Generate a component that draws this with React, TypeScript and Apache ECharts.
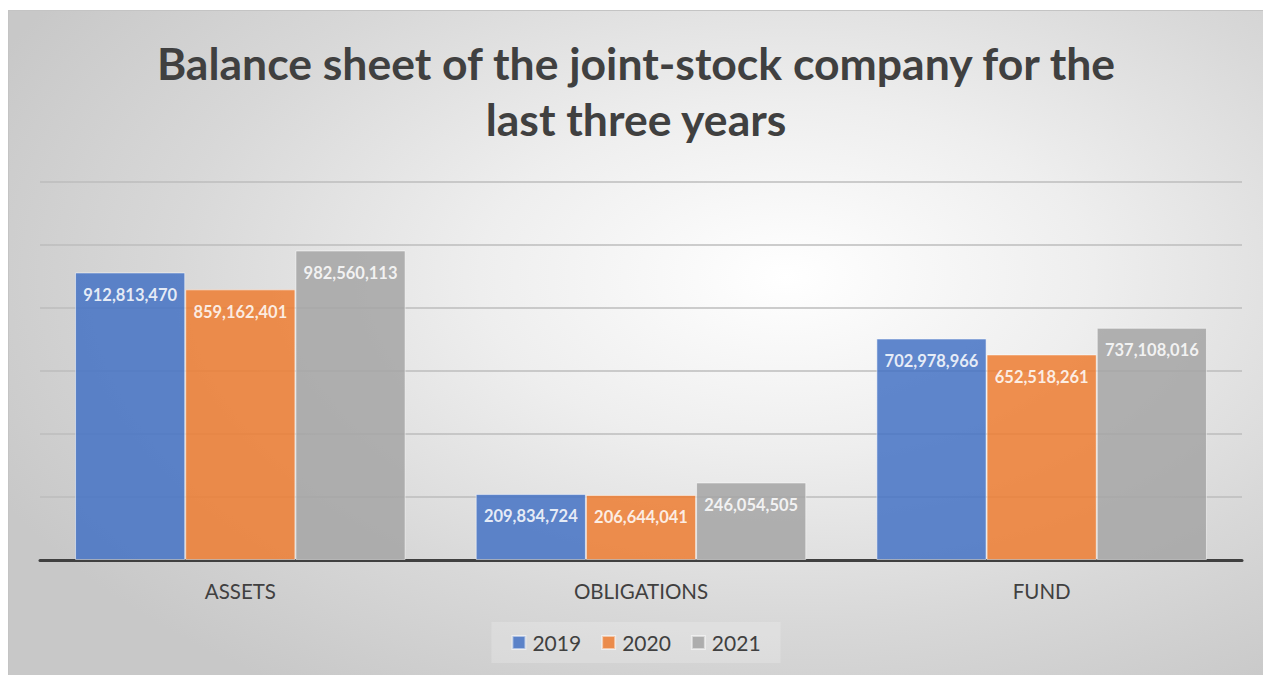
import React, { useEffect, useRef } from "react";
import * as echarts from "echarts";

const categories = ["ASSETS", "OBLIGATIONS", "FUND"];
const years = ["2019", "2020", "2021"];
const values2019 = [912813470, 209834724, 702978966];
const values2020 = [859162401, 206644041, 652518261];
const values2021 = [982560113, 246054505, 737108016];
const colors = ["#4472C4", "#ED7D31", "#A5A5A5"];

export default function App() {
  const ref = useRef<HTMLDivElement>(null);
  useEffect(() => {
    if (!ref.current) return;
    const chart = echarts.init(ref.current, undefined, { renderer: "svg" });
    const seriesData = [values2019, values2020, values2021];
    chart.setOption({
      animation: false,
      backgroundColor: "transparent",
      title: {
        text: "Balance sheet of the joint-stock company for the\nlast three years",
        left: "center",
        top: 18,
        textStyle: {
          fontFamily: "Lato",
          fontWeight: "bold",
          fontSize: 44.5,
          lineHeight: 56,
          color: "#404040",
        },
      },
      legend: {
        data: years,
        bottom: 12,
        left: "center",
        icon: "rect",
        itemWidth: 13,
        itemHeight: 13,
        itemGap: 20,
        padding: [10, 20],
        backgroundColor: "rgba(255,255,255,0.2)",
        textStyle: { fontFamily: "Lato", fontSize: 21, color: "#404040", padding: [0, 0, 0, 2] },
      },
      grid: { left: 31, right: 21, top: 171, bottom: 115, containLabel: false },
      xAxis: {
        type: "category",
        data: categories,
        axisTick: { show: false },
        axisLine: { lineStyle: { color: "#404040", width: 3 } },
        axisLabel: {
          margin: 20,
          fontFamily: "Lato",
          fontSize: 20.5,
          color: "#404040",
        },
      },
      yAxis: {
        type: "value",
        min: 0,
        max: 1200000000,
        interval: 200000000,
        axisLabel: { show: false },
        axisLine: { show: false },
        axisTick: { show: false },
        splitLine: { lineStyle: { color: "#bdbdbd", width: 1.5 } },
      },
      series: years.map((y, i) => ({
        name: y,
        type: "bar",
        data: seriesData[i],
        barGap: "0%",
        barCategoryGap: "17.5%",
        itemStyle: {
          color: colors[i],
          opacity: 0.85,
          borderColor: "rgba(255,255,255,0.6)",
          borderWidth: 1,
        },
        label: {
          show: true,
          position: "insideTop",
          distance: 14,
          color: "#ffffff",
          fontFamily: "Lato",
          fontWeight: "bold",
          fontSize: 16.5,
          formatter: (p: any) => Number(p.value).toLocaleString("en-US"),
        },
      })),
    });
    return () => chart.dispose();
  }, []);

  return (
    <div
      ref={ref}
      style={{
        position: "absolute",
        left: 8,
        top: 10,
        width: 1255,
        height: 665,
        boxSizing: "border-box",
        borderTop: "1px solid #c4c4c4",
        borderLeft: "1px solid #c4c4c4",
        background:
          "radial-gradient(ellipse 70% 75% at 62% 40%, #ffffff 0%, #eeeeee 35%, #d8d8d8 70%, #c8c8c8 100%)",
      }}
    />
  );
}
